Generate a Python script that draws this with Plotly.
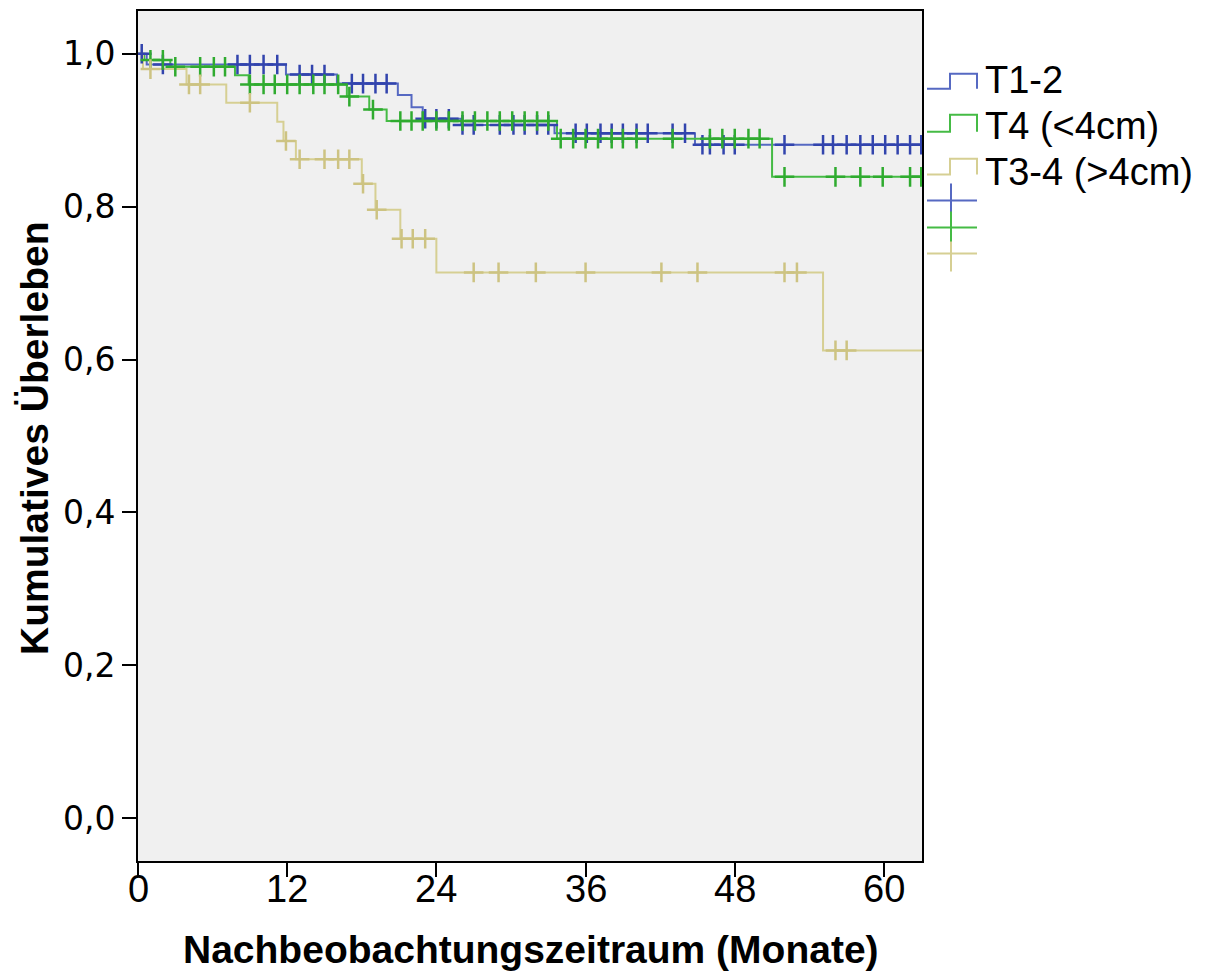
import numpy as np
import plotly.graph_objects as go

# ---------------- data ----------------
group_names = ["T1-2", "T4 (<4cm)", "T3-4 (>4cm)"]

# T1-2
t12_event_times = [0.7, 11.9, 16.0, 20.9, 22.0, 22.9, 26.0, 33.5, 44.8]
t12_survival = [0.986, 0.973, 0.961, 0.946, 0.930, 0.915, 0.907, 0.896, 0.881]
t12_censored = [0.3, 2.0, 8.0, 9.0, 10.1, 11.2, 13.0, 14.0, 15.0, 17.2, 18.1,
                19.1, 20.0, 23.1, 24.0, 25.0, 26.1, 27.0, 29.1, 30.2, 31.1,
                32.1, 33.0, 35.2, 36.1, 37.2, 38.1, 39.0, 40.1, 41.0, 43.0,
                44.0, 45.4, 46.0, 47.1, 48.0, 52.0, 55.1, 55.9, 57.0, 58.1,
                59.1, 60.1, 61.1, 62.1, 63.0]
t12_end = 64.0

# T4 (<4cm)
t4_event_times = [0.5, 2.6, 7.8, 8.9, 16.8, 18.6, 20.0, 33.7, 51.0]
t4_survival = [0.992, 0.983, 0.972, 0.960, 0.944, 0.927, 0.912, 0.889, 0.839]
t4_censored = [1.0, 2.0, 3.0, 5.0, 6.1, 7.0, 9.0, 10.1, 11.0, 12.0, 13.0,
               14.1, 15.0, 16.1, 17.0, 18.9, 21.1, 22.0, 22.9, 24.0, 25.0,
               26.1, 27.1, 28.1, 29.1, 30.1, 31.1, 32.1, 33.0, 34.0, 35.0,
               36.0, 37.0, 38.1, 39.0, 40.1, 43.0, 46.0, 47.0, 48.0, 49.1,
               50.0, 52.0, 56.1, 58.1, 59.9, 62.1, 63.0]
t4_end = 64.0

# T3-4 (>4cm)
t34_event_times = [0.4, 3.9, 7.1, 11.2, 11.7, 12.7, 18.0, 19.1, 21.1, 24.0, 55.1]
t34_survival = [0.980, 0.960, 0.936, 0.911, 0.886, 0.862, 0.830, 0.796,
                0.758, 0.714, 0.612]
t34_censored = [1.0, 4.1, 5.0, 9.0, 11.9, 13.0, 15.0, 16.1, 17.0, 18.1, 19.2,
                21.2, 22.1, 23.1, 27.0, 29.0, 32.0, 36.0, 42.1, 45.0, 52.0,
                53.0, 56.1, 57.0]
t34_end = 64.0

x_ticks = [0, 12, 24, 36, 48, 60]
x_tick_labels = ["0", "12", "24", "36", "48", "60"]
y_ticks = [0.0, 0.2, 0.4, 0.6, 0.8, 1.0]

line_colors = ["#5669c2", "#45bb45", "#d6cf93"]
mark_colors = ["#3244ad", "#2fab2f", "#cdc382"]

groups = [
    (t12_event_times, t12_survival, t12_censored, t12_end),
    (t4_event_times, t4_survival, t4_censored, t4_end),
    (t34_event_times, t34_survival, t34_censored, t34_end),
]

fig = go.Figure()


def surv_at(times, surv, t):
    idx = np.searchsorted(np.array(times), np.array(t), side="right")
    s = np.concatenate([[1.0], surv])
    return s[idx]


for i, (et, sv, ct, end) in enumerate(groups):
    xs = [0.0] + list(et) + [end]
    ys = [1.0] + list(sv) + [sv[-1]]
    fig.add_trace(go.Scatter(x=xs, y=ys, mode="lines", line_shape="hv",
                             line=dict(color=line_colors[i], width=2),
                             name=group_names[i], hoverinfo="skip"))

for i, (et, sv, ct, end) in enumerate(groups):
    fig.add_trace(go.Scatter(x=ct, y=surv_at(et, sv, ct), mode="markers",
                             marker=dict(symbol="cross-thin", size=14,
                                         line=dict(color=mark_colors[i], width=2.5)),
                             name=group_names[i] + " zensiert", hoverinfo="skip"))

# ---------------- layout ----------------
# page body has an 8px margin, so work in screen pixels and shift by 8
OFF = 8
W, H = 1207 - OFF, 978 - OFF
L, R, T, B = 138 - OFF, 922 - OFF, 9 - OFF, 861 - OFF


def px(xs):
    return (xs - OFF - L) / (R - L)


def py(ys):
    return (B - (ys - OFF)) / (B - T)


fig.update_layout(
    width=W, height=H,
    margin=dict(l=L, r=W - R, t=T, b=H - B, pad=0),
    paper_bgcolor="white", plot_bgcolor="#f0f0f0",
    showlegend=False, separators=",.",
)
fig.update_xaxes(range=[0, 63.06], tickvals=x_ticks, ticks="outside", ticklen=14,
                 tickwidth=2, tickcolor="black", showline=True, linecolor="black",
                 linewidth=2, mirror=True, showgrid=False, zeroline=False,
                 showticklabels=False)
fig.update_yaxes(range=[-0.056, 1.056], tickvals=y_ticks, tickformat=".1f",
                 ticks="outside", ticklen=14, tickwidth=2, tickcolor="black",
                 showline=True, linecolor="black", linewidth=2, mirror=True,
                 showgrid=False, zeroline=False,
                 tickfont=dict(family="DejaVu Sans", size=33, color="black"))

# x tick labels (placed close under the ticks, as in the reference)
for xv, lab in zip(x_ticks, x_tick_labels):
    fig.add_annotation(text=lab, xref="x", yref="paper", x=xv, y=py(889),
                       showarrow=False, xanchor="center", yanchor="middle",
                       font=dict(family="Liberation Sans", size=38, color="black"))

title_font = dict(family="Liberation Sans", size=39, color="black")
fig.add_annotation(text="<b>Nachbeobachtungszeitraum (Monate)</b>", xref="paper", yref="paper",
                   x=px(531), y=py(950), showarrow=False, font=title_font,
                   xanchor="center", yanchor="middle")
fig.add_annotation(text="<b>Kumulatives Überleben</b>", xref="paper", yref="paper",
                   x=px(35), y=py(438), showarrow=False, font=title_font, textangle=-90,
                   xanchor="center", yanchor="middle")

# legend: step symbols + text
legend_rows = [(72, 87, 78), (113, 130, 124), (157, 173, 170)]
for i, (ytop, ybot, ytxt) in enumerate(legend_rows):
    path = (f"M {px(927)},{py(ybot)} L {px(950)},{py(ybot)} L {px(950)},{py(ytop)} "
            f"L {px(977)},{py(ytop)} L {px(977)},{py(ybot)}")
    fig.add_shape(type="path", path=path, xref="paper", yref="paper",
                  line=dict(color=line_colors[i], width=2))
    fig.add_annotation(text=group_names[i], xref="paper", yref="paper",
                       x=px(983), y=py(ytxt), showarrow=False, xanchor="left",
                       yanchor="middle",
                       font=dict(family="Liberation Sans", size=38, color="black"))

cross_rows = [(199, 182, 217), (226, 210, 242), (252, 240, 270)]
for i, (yh, yv0, yv1) in enumerate(cross_rows):
    fig.add_shape(type="line", xref="paper", yref="paper", x0=px(927), x1=px(977),
                  y0=py(yh), y1=py(yh), line=dict(color=line_colors[i], width=2))
    fig.add_shape(type="line", xref="paper", yref="paper", x0=px(951), x1=px(951),
                  y0=py(yv0), y1=py(yv1), line=dict(color=line_colors[i], width=2))

fig.write_html("out.html")
